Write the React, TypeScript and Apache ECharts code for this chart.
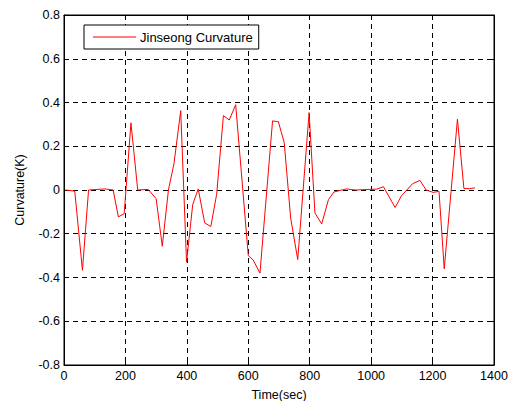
import React, { useEffect, useRef } from "react";
import * as echarts from "echarts";

const timeSec = [5, 35, 60, 80, 133, 160, 177, 196, 218, 240, 274, 300, 320, 340, 358, 380, 399, 419, 437, 458, 478, 497, 519, 538, 559, 600, 616, 638, 679, 698, 717, 738, 761, 798, 817, 839, 861, 879, 899, 920, 948, 1018, 1040, 1078, 1099, 1135, 1159, 1179, 1202, 1221, 1238, 1281, 1302, 1320, 1338];
const curvature = [0, -0.005, -0.367, 0, 0.005, 0, -0.123, -0.108, 0.307, 0, 0.003, -0.04, -0.257, 0, 0.12, 0.363, -0.33, -0.067, 0.005, -0.15, -0.167, -0.02, 0.34, 0.32, 0.39, -0.3, -0.32, -0.38, 0.316, 0.312, 0.217, -0.128, -0.318, 0.354, -0.105, -0.155, -0.044, -0.009, -0.002, 0.005, 0, 0.004, 0.015, -0.08, -0.026, 0.029, 0.044, 0, -0.011, -0.006, -0.36, 0.324, 0.007, 0.006, 0.01];
const seriesName = "Jinseong Curvature";
const xTitle = "Time(sec)";
const yTitle = "Curvature(K)";

export default function App() {
  const ref = useRef<HTMLDivElement>(null);
  useEffect(() => {
    if (!ref.current) return;
    const chart = echarts.init(ref.current, null, { renderer: "svg" });
    const font = "Liberation Sans, Arial, sans-serif";
    const dashed = { show: true, lineStyle: { color: "#000", width: 1, type: [5, 4] as any } };
    const yFmt = (v: number) => {
      const r = Math.round(v * 10) / 10;
      return r === 0 ? "0" : String(r);
    };
    const xFmt = (v: number) => String(Math.round(v));
    chart.setOption({
      animation: false,
      backgroundColor: "#fff",
      textStyle: { fontFamily: font },
      grid: {
        left: 64,
        right: 21,
        top: 15,
        bottom: 36,
        show: true,
        borderColor: "#000",
        borderWidth: 1,
        outerBoundsMode: "none",
        containLabel: false,
      } as any,
      legend: {
        left: 84,
        top: 25,
        padding: [5, 6, 5, 9],
        itemGap: 0,
        itemWidth: 43,
        itemHeight: 1,
        icon: "rect",
        borderColor: "#000",
        borderWidth: 1,
        backgroundColor: "#fff",
        textStyle: { fontFamily: font, fontSize: 13, color: "#000", padding: [0, 0, 0, -1], lineHeight: 14 },
        data: [{ name: seriesName }],
      },
      xAxis: [
        {
          type: "value",
          min: 0,
          max: 1400,
          interval: 200,
          name: xTitle,
          nameLocation: "middle",
          nameGap: 23,
          nameTextStyle: { fontFamily: font, fontSize: 12.5, color: "#000" },
          axisLine: { show: true, onZero: false, lineStyle: { color: "#000" } },
          axisTick: { show: true, inside: true, length: 4, lineStyle: { color: "#000" } },
          axisLabel: { fontFamily: font, fontSize: 12.5, color: "#000", margin: 4, formatter: xFmt },
          splitLine: dashed,
        },
        {
          type: "value",
          position: "top",
          min: 0,
          max: 1400,
          interval: 200,
          axisLine: { show: true, onZero: false, lineStyle: { color: "#000" } },
          axisTick: { show: true, inside: true, length: 4, lineStyle: { color: "#000" } },
          axisLabel: { show: false },
          splitLine: { show: false },
        },
      ],
      yAxis: [
        {
          type: "value",
          min: -0.8,
          max: 0.8,
          interval: 0.2,
          name: yTitle,
          nameLocation: "middle",
          nameGap: 38,
          nameTextStyle: { fontFamily: font, fontSize: 12.5, color: "#000" },
          axisLine: { show: true, onZero: false, lineStyle: { color: "#000" } },
          axisTick: { show: true, inside: true, length: 4, lineStyle: { color: "#000" } },
          axisLabel: { fontFamily: font, fontSize: 12.5, color: "#000", margin: 4, formatter: yFmt },
          splitLine: dashed,
        },
        {
          type: "value",
          position: "right",
          min: -0.8,
          max: 0.8,
          interval: 0.2,
          axisLine: { show: true, onZero: false, lineStyle: { color: "#000" } },
          axisTick: { show: true, inside: true, length: 4, lineStyle: { color: "#000" } },
          axisLabel: { show: false },
          splitLine: { show: false },
        },
      ],
      series: [
        {
          name: seriesName,
          type: "line",
          xAxisIndex: 0,
          yAxisIndex: 0,
          data: timeSec.map((t, i) => [t, curvature[i]]),
          symbol: "none",
          lineStyle: { color: "#ff0000", width: 1 },
          itemStyle: { color: "#ff0000" },
        },
      ],
    });
    return () => chart.dispose();
  }, []);
  return <div ref={ref} style={{ position: "fixed", left: 0, top: 0, width: 515, height: 401 }} />;
}
